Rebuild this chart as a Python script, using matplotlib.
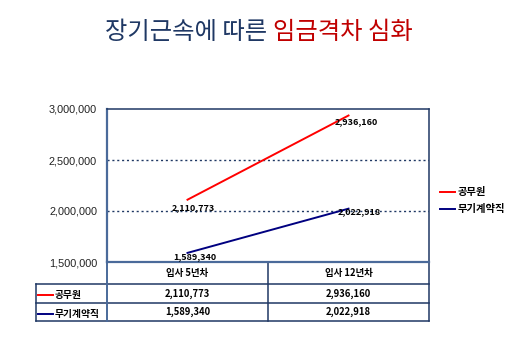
import matplotlib
matplotlib.use("Agg")
import matplotlib.pyplot as plt
from matplotlib.ticker import FuncFormatter

plt.rcParams['font.family'] = ['Noto Sans CJK KR', 'DejaVu Sans']

# Data
categories = ['입사 5년차', '입사 12년차']
series_names = ['공무원', '무기계약직']
civil_servant = [2110773, 2936160]
permanent_contract = [1589340, 2022918]
series_values = [civil_servant, permanent_contract]
series_colors = ['#FF0000', '#000080']
y_ticks = [1500000, 2000000, 2500000, 3000000]

W, H = 520, 347
DPI = 100
fig = plt.figure(figsize=(W / DPI, H / DPI), dpi=DPI)

NAVY = '#1F3864'
FRAME2 = '#4A6A9A'

# pixel-space overlay for title, table and legend
ov = fig.add_axes([0, 0, 1, 1])
ov.set_xlim(0, W)
ov.set_ylim(H, 0)
ov.axis('off')

# main plot area
L, R, T, B = 107, 429, 109, 262
ax = fig.add_axes([L / W, 1 - B / H, (R - L) / W, (B - T) / H])
ax.set_xlim(-0.5, len(categories) - 0.5)
ax.set_ylim(y_ticks[0], y_ticks[-1])
ax.set_yticks(y_ticks)
ax.yaxis.set_major_formatter(FuncFormatter(lambda v, p: f'{int(v):,}'))
ax.tick_params(axis='y', length=0, pad=7.2, labelcolor='#222222')
ax.set_xticks([])
for t in ax.get_yticklabels():
    t.set_family(['Liberation Sans'])
    t.set_fontsize(7.8)
for s in ['top', 'right']:
    ax.spines[s].set_color(NAVY)
    ax.spines[s].set_linewidth(1.1)
for s in ['left', 'bottom']:
    ax.spines[s].set_color(FRAME2)
    ax.spines[s].set_linewidth(1.6)
for yv in y_ticks[1:-1]:
    ax.axhline(yv, color=NAVY, lw=1.0, ls=(0, (1.5, 2)), zorder=1)

x = list(range(len(categories)))
for vals, c in zip(series_values, series_colors):
    ax.plot(x, vals, color=c, lw=1.4, zorder=3)

# value labels (offsets in pixels)
label_offsets = {
    (0, 0): (6, -8), (0, 1): (8, -6),
    (1, 0): (7, -4), (1, 1): (11, -3),
}
for si, vals in enumerate(series_values):
    for ci, v in enumerate(vals):
        dx, dy = label_offsets[(si, ci)]
        ax.annotate(f'{v:,}', (ci, v), xytext=(dx * 0.72, dy * 0.72),
                    textcoords='offset points', ha='center', va='center',
                    fontsize=6.5, fontweight='bold', color='black', zorder=4)

# title in two colours
title_parts = [('장기근속에 따른 ', '#1F3864'), ('임금격차 심화', '#C00000')]
t1 = ov.text(105, 32, title_parts[0][0], fontsize=17.5, color=title_parts[0][1],
             ha='left', va='center')
fig.canvas.draw()
bb = t1.get_window_extent()
ov.text(bb.x1, 32, title_parts[1][0], fontsize=17.5,
        color=title_parts[1][1], ha='left', va='center')

# data table
tcol = NAVY
lw = 1.1
col_edges = [L, 268, R]
row_y = [B, 284, 303, 321]
for yy in row_y[1:]:
    ov.plot([36, R], [yy, yy], color=tcol, lw=lw)
ov.plot([36, 36], [row_y[1], row_y[3]], color=tcol, lw=lw)
ov.plot([L, L], [B, row_y[3]], color=FRAME2, lw=1.4)
ov.plot([268, 268], [B, row_y[3]], color=tcol, lw=lw)
ov.plot([R, R], [B, row_y[3]], color=tcol, lw=lw)

for ci, cat in enumerate(categories):
    cx = (col_edges[ci] + col_edges[ci + 1]) / 2
    ov.text(cx, (row_y[0] + row_y[1]) / 2, cat, ha='center', va='center',
            fontsize=6.8, fontweight='bold')
    for si, vals in enumerate(series_values):
        cy = (row_y[si + 1] + row_y[si + 2]) / 2
        ov.text(cx, cy, f'{vals[ci]:,}', ha='center', va='center',
                fontsize=6.8, fontweight='bold')

for si, (name, c) in enumerate(zip(series_names, series_colors)):
    cy = (row_y[si + 1] + row_y[si + 2]) / 2 + 1.5
    ov.plot([38, 53], [cy, cy], color=c, lw=1.4)
    ov.text(55, cy, name, ha='left', va='center', fontsize=7, fontweight='bold')

# legend
leg_y = [192, 209]
for si, (name, c) in enumerate(zip(series_names, series_colors)):
    ov.plot([440, 455], [leg_y[si]] * 2, color=c, lw=1.4)
    ov.text(458, leg_y[si], name, ha='left', va='center', fontsize=7.4,
            fontweight='bold')

fig.savefig('out.png', dpi=DPI, facecolor='white')
